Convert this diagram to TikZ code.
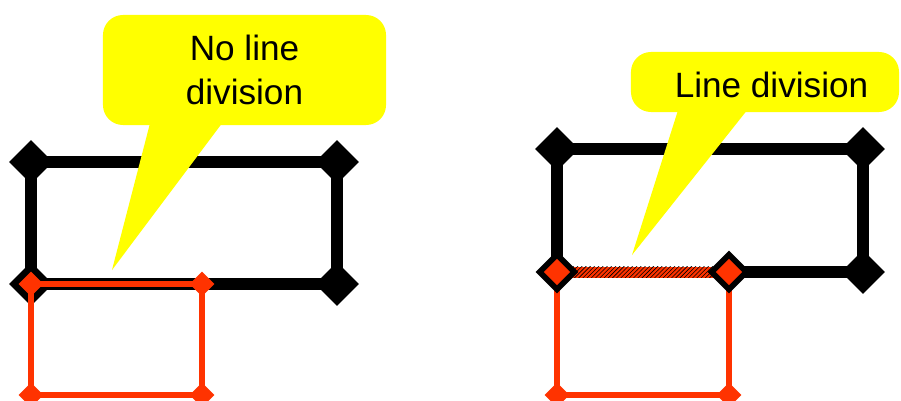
\documentclass[tikz,border=0pt]{standalone}
\usepackage{fontspec}
\setmainfont{Liberation Sans}
\usetikzlibrary{positioning,shapes.geometric,patterns,calc}
\definecolor{calloutyellow}{HTML}{FFFF00}
\definecolor{segred}{HTML}{FF3300}

\begin{document}
\begin{tikzpicture}[x=0.025cm,y=-0.025cm,
  every node/.style={font=\fontsize{25}{31.2}\selectfont},
  blackline/.style={line width=0.3cm},
  redline/.style={segred,line width=0.13cm},
  corner/.style={diamond,fill=black,inner sep=0pt,minimum width=1.1cm,minimum height=1.1cm},
  redcorner/.style={diamond,fill=segred,inner sep=0pt,minimum width=0.62cm,minimum height=0.62cm},
  bubble/.style={fill=calloutyellow,rounded corners=0.5cm,inner sep=0pt}]
\useasboundingbox (0,0) rectangle (901,401);
% left: no line division
\coordinate (a1) at (31,162);
\coordinate (a2) at (337,162);
\coordinate (a3) at (337,284);
\coordinate (a4) at (31,284);
\coordinate (r2) at (202,284);
\coordinate (r3) at (202,395);
\coordinate (r4) at (31,395);
\draw[blackline] (a1) -- (a2) -- (a3) -- (a4) -- cycle;
\node[corner] (da1) at (a1) {};
\node[corner] (da2) at (a2) {};
\node[corner] (da3) at (a3) {};
\node[corner] (da4) at (a4) {};
\draw[redline] (a4) -- (r2) -- (r3) -- (r4) -- cycle;
\node[redcorner] (dr1) at (a4) {};
\node[redcorner] (dr2) at (r2) {};
\node[redcorner] (dr3) at (r3) {};
\node[redcorner] (dr4) at (r4) {};
\node[bubble,minimum width=7.075cm,minimum height=2.75cm,align=center] (leftbubble) at (244.5,70) {No line\\division};
\coordinate (lefttip) at (112,270);
\fill[calloutyellow] ($(leftbubble.south)+(-94.5,-2)$) -- (lefttip) -- ($(leftbubble.south)+(-22.5,-2)$) -- cycle;
% right: line division
\coordinate (b1) at (557,149);
\coordinate (b2) at (863,149);
\coordinate (b3) at (863,272);
\coordinate (b4) at (557,272);
\coordinate (s2) at (729,272);
\coordinate (s3) at (729,395);
\coordinate (s4) at (557,395);
\draw[blackline] (s2) -- (b3) -- (b2) -- (b1) -- (b4);
\fill[segred] ($(b4)+(14,-5.5)$) rectangle ($(s2)+(-14,5.5)$);
\fill[pattern=north east lines,pattern color=black] ($(b4)+(14,-5.5)$) rectangle ($(s2)+(-14,5.5)$);
\node[corner] (db1) at (b1) {};
\node[corner] (db2) at (b2) {};
\node[corner] (db3) at (b3) {};
\draw[redline] (b4) -- (s4) -- (s3) -- (s2);
\node[corner,minimum width=1.07cm,minimum height=1.07cm] (db4) at (b4) {};
\node[corner,minimum width=1.07cm,minimum height=1.07cm] (ds2) at (s2) {};
\node[redcorner,minimum width=0.66cm,minimum height=0.66cm] (ds2r) at (s2) {};
\node[redcorner,minimum width=0.66cm,minimum height=0.66cm] (db4r) at (b4) {};
\node[redcorner] (ds3) at (s3) {};
\node[redcorner] (ds4) at (s4) {};
\node[bubble,minimum width=6.7cm,minimum height=1.5cm] (rightbubble) at (765,82) {};
\node (righttext) at (771.5,85) {Line division};
\coordinate (righttip) at (632,255);
\fill[calloutyellow] ($(rightbubble.south)+(-87,-2)$) -- (righttip) -- ($(rightbubble.south)+(-18,-2)$) -- cycle;
\end{tikzpicture}
\end{document}
